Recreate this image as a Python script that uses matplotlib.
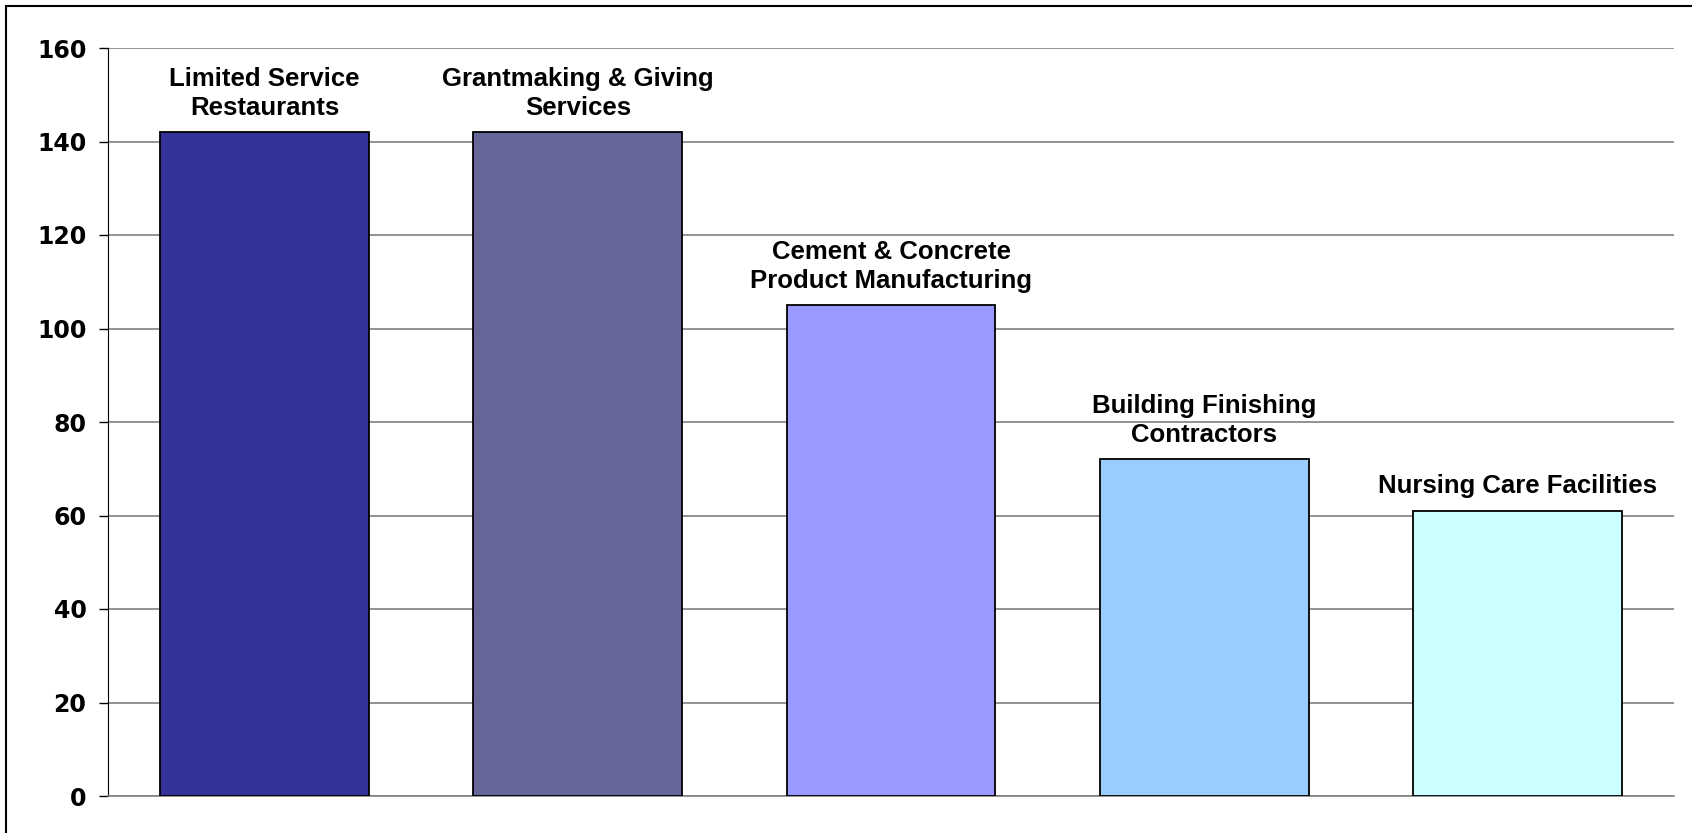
import matplotlib
matplotlib.use("Agg")
import matplotlib.pyplot as plt
from matplotlib.patches import Rectangle

plt.rcParams['font.family'] = ['Liberation Sans', 'DejaVu Sans']

# data
categories = [
    "Limited Service\nRestaurants",
    "Grantmaking & Giving\nServices",
    "Cement & Concrete\nProduct Manufacturing",
    "Building Finishing\nContractors",
    "Nursing Care Facilities",
]
values = [142, 142, 105, 72, 61]
bar_colors = ["#333399", "#666699", "#9999FF", "#99CCFF", "#CCFFFF"]
y_ticks = [0, 20, 40, 60, 80, 100, 120, 140, 160]

fig = plt.figure(figsize=(16.92, 8.33), dpi=100)

# outer frame (only top and left edges visible in the picture)
fig.patches.append(Rectangle((6 / 1692, -0.1), 1.2, (833 - 6.5) / 833 + 0.1,
                             transform=fig.transFigure, fill=False,
                             edgecolor="black", linewidth=1.5))

ax = fig.add_axes([108 / 1692, 37 / 833, 1566 / 1692, 748 / 833])

x = list(range(len(categories)))
bars = ax.bar(x, values, width=0.667, color=bar_colors,
              edgecolor="black", linewidth=1.3, zorder=3)

for xi, v, lab in zip(x, values, categories):
    ax.annotate(lab, (xi, v), xytext=(0, 9), textcoords="offset points",
                ha="center", va="bottom", fontsize=18.5, fontweight="bold",
                linespacing=1.25)

ax.set_xlim(-0.5, len(categories) - 0.5)
ax.set_ylim(0, 160)
ax.set_yticks(y_ticks)
ax.set_yticklabels([str(t) for t in y_ticks], fontsize=17,
                   fontweight="bold", family="DejaVu Sans")
ax.set_xticks([])
ax.tick_params(axis="y", length=6.5, width=1, pad=9, direction="out")

ax.grid(axis="y", color="#808080", linewidth=1.2, zorder=0)
for side in ["top", "right"]:
    ax.spines[side].set_visible(False)
ax.spines["left"].set_color("black")
ax.spines["bottom"].set_color("#808080")
ax.spines["bottom"].set_linewidth(1.2)

fig.savefig("out.png", dpi=100)
